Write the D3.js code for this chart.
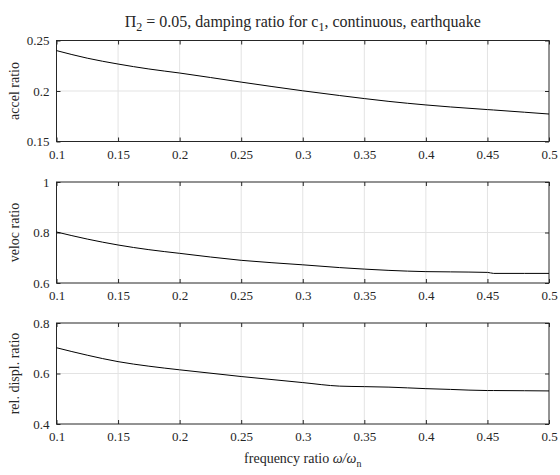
<!DOCTYPE html>
<meta charset="utf-8">
<style>
body { margin: 0; background: #fff; }
text { font-family: "Liberation Serif", "Times New Roman", serif; fill: #262626; }
.grid line { stroke: #e3e3e3; stroke-width: 1; }
.frame { fill: none; stroke: #262626; stroke-width: 1; }
</style>
<body>
<script src="https://d3js.org/d3.v7.min.js"></script>
<script>

// frequency ratio samples
var freq  = [0.1, 0.125, 0.15, 0.175, 0.2, 0.25, 0.3, 0.33, 0.35, 0.37, 0.4, 0.42, 0.45, 0.455, 0.48, 0.5];

var accel = [0.240, 0.2325, 0.2267, 0.2218, 0.2178, 0.2088, 0.2002, 0.1955, 0.1925, 0.1897, 0.1862, 0.1842, 0.1816, 0.1812, 0.1790, 0.1772];
var veloc = [0.802, 0.774, 0.7505, 0.732, 0.7175, 0.6898, 0.672, 0.661, 0.655, 0.650, 0.645, 0.644, 0.642, 0.638, 0.638, 0.638];
var displ = [0.702, 0.6725, 0.647, 0.629, 0.6146, 0.588, 0.564, 0.550, 0.548, 0.546, 0.540, 0.537, 0.5325, 0.5325, 0.5318, 0.531];

var xTicks = [0.1, 0.15, 0.2, 0.25, 0.3, 0.35, 0.4, 0.45, 0.5];

var panels = [
  { label: "accel ratio", values: accel, domain: [0.15, 0.25], ticks: [0.15, 0.2, 0.25], top: 40.5 },
  { label: "veloc ratio", values: veloc, domain: [0.6, 1], ticks: [0.6, 0.8, 1], top: 182 },
  { label: "rel. displ. ratio", values: displ, domain: [0.4, 0.8], ticks: [0.4, 0.6, 0.8], top: 323 }
];

var W = 560, H = 475;
var left = 56.5, right = 549, ph = 101;
var serif = '"Liberation Serif", "Times New Roman", serif';

var svg = d3.select("body").append("svg")
    .attr("width", W)
    .attr("height", H);

var x = d3.scaleLinear().domain([0.1, 0.5]).range([left, right]);
var fmt = function(d) { return d3.format("")(+d.toFixed(2)); };

panels.forEach(function(p) {
  var y = d3.scaleLinear().domain(p.domain).range([p.top + ph, p.top]);
  var g = svg.append("g");

  // grid
  var grid = g.append("g").attr("class", "grid");
  grid.selectAll(".vx").data(xTicks.slice(1, -1)).enter().append("line")
      .attr("x1", d => x(d)).attr("x2", d => x(d))
      .attr("y1", p.top).attr("y2", p.top + ph);
  grid.selectAll(".hy").data(p.ticks.slice(1, -1)).enter().append("line")
      .attr("x1", left).attr("x2", right)
      .attr("y1", d => y(d)).attr("y2", d => y(d));

  // axes with inward ticks
  g.append("g").attr("transform", "translate(0," + (p.top + ph) + ")")
      .call(d3.axisBottom(x).tickValues(xTicks).tickSize(-4).tickPadding(8).tickFormat(fmt))
      .attr("font-family", serif).attr("font-size", 13)
      .call(a => a.select(".domain").remove());
  g.append("g").attr("transform", "translate(0," + p.top + ")")
      .call(d3.axisTop(x).tickValues(xTicks).tickSize(-4).tickFormat(""))
      .call(a => a.select(".domain").remove());
  g.append("g").attr("transform", "translate(" + left + ",0)")
      .call(d3.axisLeft(y).tickValues(p.ticks).tickSize(-4).tickPadding(7).tickFormat(fmt))
      .attr("font-family", serif).attr("font-size", 13)
      .call(a => a.select(".domain").remove());
  g.append("g").attr("transform", "translate(" + right + ",0)")
      .call(d3.axisRight(y).tickValues(p.ticks).tickSize(-4).tickFormat(""))
      .call(a => a.select(".domain").remove());
  g.selectAll(".tick line").attr("stroke", "#262626");
  g.selectAll(".tick text").attr("fill", "#262626");

  g.append("rect").attr("class", "frame")
      .attr("x", left).attr("y", p.top)
      .attr("width", right - left).attr("height", ph);

  // curve
  var line = d3.line()
      .x((d, i) => x(freq[i]))
      .y(d => y(d))
      .curve(d3.curveMonotoneX);
  g.append("path")
      .datum(p.values)
      .attr("fill", "none")
      .attr("stroke", "#000")
      .attr("stroke-width", 1)
      .attr("d", line);

  // y label
  g.append("text")
      .attr("transform", "translate(19," + (p.top + ph / 2) + ") rotate(-90)")
      .attr("text-anchor", "middle")
      .style("font-size", "14px")
      .text(p.label);
});

// title
var title = svg.append("text")
    .attr("x", (left + right) / 2)
    .attr("y", 27)
    .attr("text-anchor", "middle")
    .style("font-size", "16px");
title.append("tspan").text("\u03A0");
title.append("tspan").attr("dy", 4).style("font-size", "12px").text("2");
title.append("tspan").attr("dy", -4).text(" = 0.05, damping ratio for c");
title.append("tspan").attr("dy", 4).style("font-size", "12px").text("1");
title.append("tspan").attr("dy", -4).text(", continuous, earthquake");

// x label
var xl = svg.append("text")
    .attr("x", (left + right) / 2)
    .attr("y", 463)
    .attr("text-anchor", "middle")
    .style("font-size", "14px");
xl.append("tspan").text("frequency ratio ");
xl.append("tspan").style("font-style", "italic").text("\u03C9/\u03C9");
xl.append("tspan").attr("dy", 4).style("font-size", "10px").text("n");

</script>
</body>
